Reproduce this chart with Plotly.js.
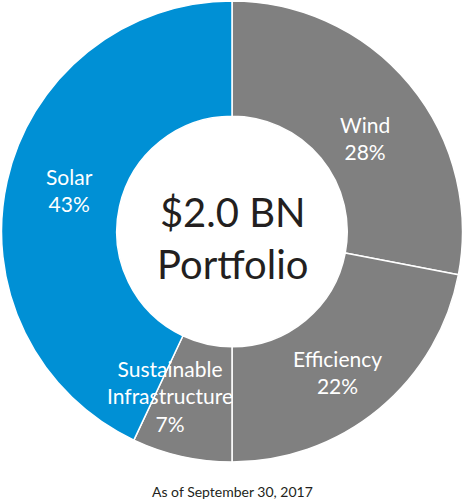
<!DOCTYPE html>
<html>
<head>
<meta charset="utf-8">
<script src="https://cdn.plot.ly/plotly-3.0.1.min.js"></script>
<style>
  html, body { margin: 0; padding: 0; background: #ffffff; }
  #chart { width: 464px; height: 501px; }
</style>
</head>
<body>
<div id="chart"></div>
<script>
// Portfolio split by sector, clockwise from 12 o'clock
const categories = ["Wind", "Efficiency", "Sustainable<br>Infrastructure", "Solar"];
const shares = [28, 22, 7, 43];
const sliceColors = ["#808080", "#808080", "#808080", "#0090d5"];
const centerLines = ["$2.0 BN", "Portfolio"];
const footnote = "As of September 30, 2017";

// label anchor points (paper-space pixels) for each slice
const labelPos = [[365, 138], [337, 372], [170, 396], [69, 190]];

const W = 464, H = 501;
const FONT = "Lato, 'Open Sans', sans-serif";

const trace = {
  type: "pie",
  values: shares,
  labels: categories,
  sort: false,
  direction: "clockwise",
  rotation: 0,
  hole: 0.5,
  textinfo: "none",
  hoverinfo: "none",
  marker: { colors: sliceColors, line: { color: "#ffffff", width: 1.5 } },
  domain: { x: [0, 1], y: [(H - 462) / H, (H - 1) / H] },
  showlegend: false
};

const annotations = categories.map((c, i) => ({
  x: labelPos[i][0] / W,
  y: 1 - labelPos[i][1] / H,
  xref: "paper", yref: "paper",
  xanchor: "center", yanchor: "middle",
  text: c + "<br>" + shares[i] + "%",
  showarrow: false,
  align: "center",
  font: { family: FONT, size: 21, color: "#ffffff" }
}));

annotations.push({
  x: 232 / W, y: 1 - 238 / H,
  xref: "paper", yref: "paper",
  xanchor: "center", yanchor: "middle",
  text: centerLines.join("<br>"),
  showarrow: false,
  align: "center",
  font: { family: FONT, size: 40, color: "#231f20" }
});

annotations.push({
  x: 232 / W, y: 1 - 491 / H,
  xref: "paper", yref: "paper",
  xanchor: "center", yanchor: "middle",
  text: footnote,
  showarrow: false,
  font: { family: FONT, size: 14, color: "#231f20" }
});

const layout = {
  width: W, height: H,
  margin: { l: 0, r: 0, t: 0, b: 0 },
  paper_bgcolor: "#ffffff",
  annotations: annotations
};

Plotly.newPlot("chart", [trace], layout, { displayModeBar: false, staticPlot: true });
</script>
</body>
</html>
